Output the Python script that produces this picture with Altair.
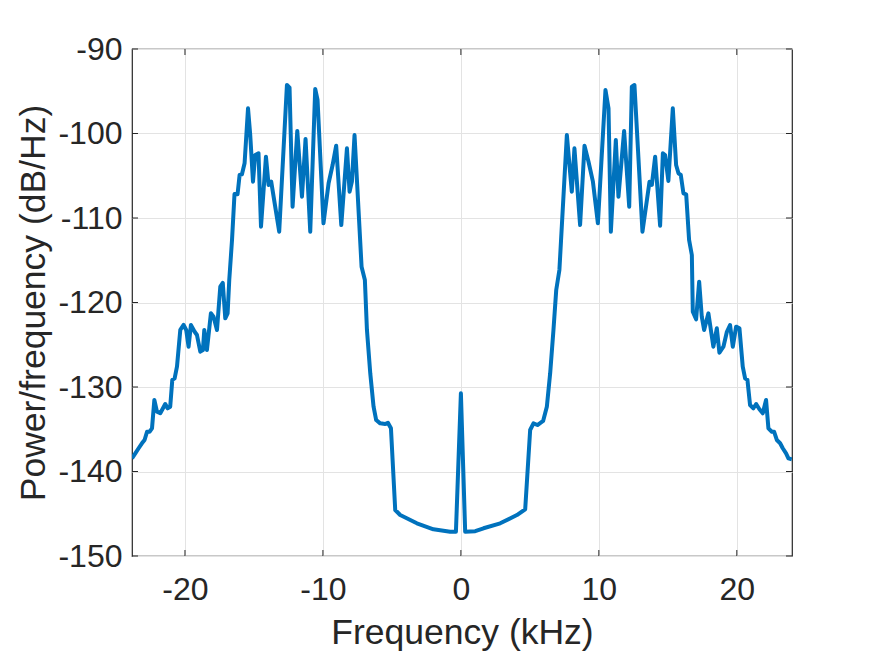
import altair as alt
import pandas as pd

# Frequency (kHz) and PSD (dB/Hz)
freq_khz = [
    -23.84, -23.60, -23.36, -23.12, -22.93, -22.75, -22.57, -22.39, -22.22, -22.03,
    -21.79, -21.43, -21.26, -21.07, -20.92, -20.75, -20.58, -20.34, -20.10, -19.91,
    -19.74, -19.57, -19.30, -19.13, -18.89, -18.70, -18.60, -18.41, -18.12, -17.93,
    -17.68, -17.44, -17.26, -17.08, -16.91, -16.79, -16.59, -16.41, -16.19, -16.04,
    -15.87, -15.68, -15.43, -15.27, -15.07, -14.91, -14.67, -14.49, -14.13, -13.94,
    -13.75, -13.17, -12.61, -12.42, -12.20, -11.86, -11.52, -11.26, -10.92, -10.56,
    -10.39, -9.96, -9.59, -9.30, -9.04, -8.67, -8.26, -8.07, -7.90, -7.71,
    -7.20, -6.96, -6.81, -6.57, -6.33, -6.14, -5.85, -5.49, -5.29, -5.07,
    -4.76, -4.40, -3.19, -1.99, -0.78, -0.36, 0.00,
    0.31, 1.04, 1.64, 2.85, 4.06, 4.66, 5.02, 5.26, 5.55, 5.96,
    6.23, 6.47, 6.71, 6.91, 7.14, 7.68, 8.04, 8.23, 8.64, 8.96,
    9.25, 9.57, 9.93, 10.48, 10.70, 10.87, 11.23, 11.42, 11.83, 12.20,
    12.39, 12.58, 13.16, 13.67, 13.84, 14.08, 14.44, 14.64, 14.80, 15.04,
    15.36, 15.60, 15.77, 15.94, 16.13, 16.33, 16.54, 16.74, 16.81, 17.05,
    17.27, 17.46, 17.63, 17.94, 18.30, 18.55, 18.74, 19.03, 19.28, 19.51,
    19.71, 19.95, 20.19, 20.43, 20.60, 20.77, 20.96, 21.20, 21.40, 21.64,
    21.88, 22.12, 22.29, 22.54, 22.70, 22.90, 23.14, 23.33, 23.57, 23.74,
    23.99,
]
psd_db = [
    -138.44, -137.85, -137.25, -136.66, -136.27, -135.29, -135.29, -134.89, -131.54, -132.92,
    -133.11, -132.01, -132.52, -132.33, -129.17, -128.97, -127.60, -123.25, -122.66, -123.25,
    -125.23, -122.66, -123.46, -123.85, -125.82, -125.62, -123.25, -125.62, -121.28, -121.68,
    -123.25, -118.13, -117.69, -121.87, -121.28, -117.34, -112.60, -107.16, -107.20, -104.91,
    -104.83, -103.53, -97.02, -100.18, -105.70, -102.54, -102.34, -111.03, -102.74, -106.09,
    -105.70, -111.62, -94.26, -94.58, -108.66, -99.70, -107.48, -100.65, -111.62, -94.73,
    -96.04, -110.63, -105.89, -103.73, -101.44, -110.83, -101.75, -106.89, -105.70, -100.18,
    -115.76, -117.34, -123.25, -128.38, -132.33, -133.91, -134.30, -134.38, -134.23, -134.89,
    -144.56, -145.15, -146.13, -146.84, -147.12, -147.12, -130.75,
    -147.12, -147.06, -146.72, -146.13, -145.15, -144.47, -135.09, -134.30, -134.50, -134.02,
    -132.33, -128.38, -123.25, -118.52, -116.15, -100.18, -106.89, -101.75, -110.83, -101.44,
    -103.34, -105.70, -110.63, -94.85, -97.02, -111.62, -100.77, -107.48, -99.70, -108.66,
    -94.46, -94.26, -111.62, -105.70, -106.09, -102.74, -110.91, -102.34, -102.54, -105.62,
    -97.02, -103.73, -104.71, -104.91, -107.08, -107.20, -112.60, -114.38, -121.09, -121.99,
    -117.54, -121.68, -123.25, -121.28, -125.23, -123.05, -125.94, -125.23, -123.46, -122.66,
    -125.23, -122.86, -123.05, -127.60, -128.97, -129.17, -132.13, -132.52, -132.01, -132.64,
    -133.11, -131.54, -134.89, -135.29, -135.29, -136.27, -136.66, -137.25, -137.85, -138.44,
    -138.56,
]

x_ticks = [-20, -10, 0, 10, 20]
y_ticks = [-150, -140, -130, -120, -110, -100, -90]
x_domain = [-23.84, 24.0]
y_domain = [-150, -90]

W, H = 660, 507
FONT = "Liberation Sans"
AXIS_COLOR = "#262626"
LINE_COLOR = "#0072BD"

df = pd.DataFrame({"f": freq_khz, "p": psd_db, "order": list(range(len(freq_khz)))})
xt = pd.DataFrame({"t": x_ticks})
yt = pd.DataFrame({"t": y_ticks})

xscale = alt.Scale(domain=x_domain, nice=False, zero=False)
yscale = alt.Scale(domain=y_domain, nice=False, zero=False)

line = alt.Chart(df).mark_line(color=LINE_COLOR, strokeWidth=4, strokeJoin="round", clip=True).encode(
    x=alt.X("f:Q", scale=xscale, title="Frequency (kHz)",
            axis=alt.Axis(values=x_ticks, labelExpr="'' + datum.value", grid=True,
                          gridColor="#e3e3e3", gridWidth=1, tickSize=0, domain=False,
                          labelFont=FONT, labelFontSize=32, labelColor=AXIS_COLOR,
                          labelPadding=18, titleFont=FONT, titleFontSize=35.5,
                          titleFontWeight="normal", titleColor=AXIS_COLOR, titlePadding=10)),
    y=alt.Y("p:Q", scale=yscale, title="Power/frequency (dB/Hz)",
            axis=alt.Axis(values=y_ticks, labelExpr="'' + datum.value", grid=True,
                          gridColor="#e3e3e3", gridWidth=1, tickSize=0, domain=False,
                          labelFont=FONT, labelFontSize=32, labelColor=AXIS_COLOR,
                          labelPadding=10, titleFont=FONT, titleFontSize=35.5,
                          titleFontWeight="normal", titleColor=AXIS_COLOR, titlePadding=6)),
    order="order:Q",
)

tick_len = 6
xb = alt.Chart(xt).mark_rule(color=AXIS_COLOR, strokeWidth=1).encode(
    x=alt.X("t:Q", scale=xscale), y=alt.value(H), y2=alt.value(H - tick_len))
xtop = alt.Chart(xt).mark_rule(color=AXIS_COLOR, strokeWidth=1).encode(
    x=alt.X("t:Q", scale=xscale), y=alt.value(0), y2=alt.value(tick_len))
yl = alt.Chart(yt).mark_rule(color=AXIS_COLOR, strokeWidth=1).encode(
    y=alt.Y("t:Q", scale=yscale), x=alt.value(0), x2=alt.value(tick_len))
yr = alt.Chart(yt).mark_rule(color=AXIS_COLOR, strokeWidth=1).encode(
    y=alt.Y("t:Q", scale=yscale), x=alt.value(W), x2=alt.value(W - tick_len))

chart = alt.layer(line, xb, xtop, yl, yr).properties(
    width=W, height=H,
    autosize=alt.AutoSizeParams(type="none"),
    padding={"left": 132, "top": 49, "right": 83, "bottom": 101},
    background="white",
).configure_view(stroke=AXIS_COLOR, strokeWidth=1.2)

chart.save("out.html", embed_options={"renderer": "svg", "actions": False})
